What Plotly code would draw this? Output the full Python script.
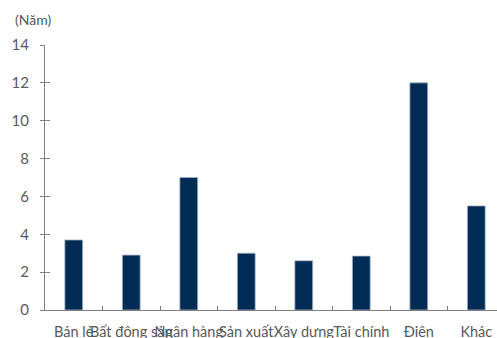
import plotly.graph_objects as go

# Số năm theo ngành
categories = ["Bán lẻ", "Bất động sản", "Ngân hàng", "Sản xuất",
              "Xây dựng", "Tài chính", "Điện", "Khác"]
years = [3.7, 2.9, 7.0, 3.0, 2.6, 2.85, 12.0, 5.5]
y_ticks = [0, 2, 4, 6, 8, 10, 12, 14]

BAR_COLOR = "#002B55"
AXIS_COLOR = "#7f7f7f"
TEXT_COLOR = "#595959"
FONT = "Lato, Noto Sans, sans-serif"

fig = go.Figure()
fig.add_trace(go.Bar(
    x=categories,
    y=years,
    width=0.31,
    marker=dict(color=BAR_COLOR, line=dict(color="#a9b6c6", width=0.8)),
    showlegend=False,
))
# invisible trace carrying the inner half of the crossing y ticks
fig.add_trace(go.Scatter(x=[categories[0]], y=[0], yaxis="y2",
                         mode="markers", marker=dict(opacity=0),
                         showlegend=False, hoverinfo="skip"))

fig.update_layout(
    width=497, height=338,
    margin=dict(l=45, r=0, t=45, b=28, autoexpand=False),
    paper_bgcolor="white", plot_bgcolor="white",
    font=dict(family=FONT, size=14, color=TEXT_COLOR),
    bargap=0.69,
    xaxis=dict(
        type="category",
        range=[-0.5, 7.36],
        automargin=False,
        showline=True, linecolor=AXIS_COLOR, linewidth=1,
        ticks="inside", tickson="boundaries", ticklen=4,
        tickcolor=AXIS_COLOR, tickwidth=1,
        showgrid=False, zeroline=False,
        tickangle=0,
        tickfont=dict(size=14.5, color=TEXT_COLOR),
        ticklabelstandoff=9,
    ),
    yaxis=dict(
        range=[0, 14], tickvals=y_ticks,
        automargin=False,
        showline=True, linecolor=AXIS_COLOR, linewidth=1,
        ticks="outside", ticklen=4, tickcolor=AXIS_COLOR, tickwidth=1,
        showgrid=False, zeroline=False,
        tickfont=dict(size=15, color=TEXT_COLOR),
        ticklabelstandoff=8,
    ),
    yaxis2=dict(
        range=[0, 14], tickvals=y_ticks, overlaying="y", side="left",
        anchor="x", showline=False, showticklabels=False,
        automargin=False,
        ticks="inside", ticklen=5, tickcolor=AXIS_COLOR, tickwidth=1,
        showgrid=False, zeroline=False,
    ),
    annotations=[dict(
        text="(Năm)", xref="paper", yref="paper",
        x=-32 / 452, y=1 + 26 / 265, xanchor="left", yanchor="middle",
        showarrow=False, font=dict(size=14, color=TEXT_COLOR),
    )],
)

fig.write_html("out.html")
